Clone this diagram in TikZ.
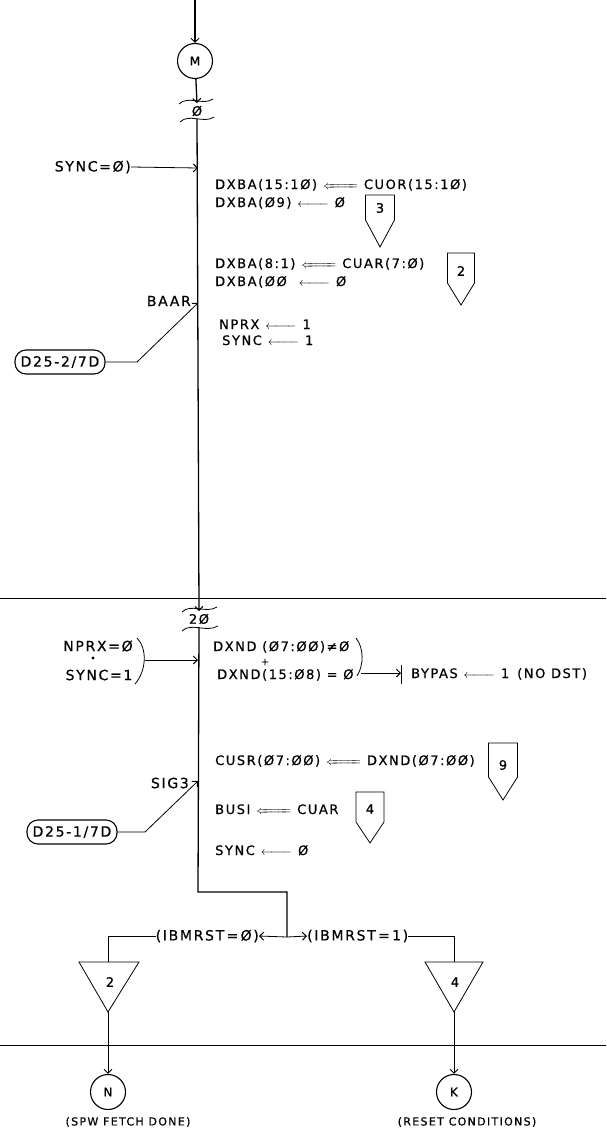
\documentclass[tikz,border=0pt]{standalone}
\usepackage{mathtools}
\usepackage{fontspec}
\newfontfamily\lettering{DejaVu Sans}[LetterSpace=12, FakeBold=0.6]
\usetikzlibrary{arrows.meta}
\newcommand{\asgn}{\hspace{6pt}$\xleftarrow{\hspace{24pt}}$\hspace{6pt}}
\newcommand{\dasgn}{\hspace{6pt}$\xLeftarrow{\hspace{24pt}}$\hspace{6pt}}
\begin{document}
\begin{tikzpicture}[x=1pt, y=-1pt,
        flow/.style={line width=1.3pt},
        thinl/.style={line width=0.8pt},
        tip/.style={-{Straight Barb[length=4pt,width=8pt,line width=1pt]}},
        conn/.style={circle, draw, line width=1.1pt, minimum size=35pt, inner sep=0pt, font=\lettering\fontsize{12}{14}\selectfont},
        brk/.style={inner sep=2.5pt, font=\lettering\fontsize{13}{15}\selectfont},
        txt/.style={anchor=base west, inner sep=0pt, font=\lettering\fontsize{13}{15}\selectfont},
        side/.style={inner sep=0pt, font=\lettering\fontsize{14}{16}\selectfont},
        ref/.style={draw, line width=1.1pt, rounded corners=11pt, minimum width=90pt, minimum height=24pt, inner sep=0pt, font=\lettering\fontsize{14}{16}\selectfont},
        num/.style={inner sep=0pt, font=\lettering\fontsize{13}{15}\selectfont},
        foot/.style={inner sep=0pt, font=\lettering\fontsize{11}{13}\selectfont},
    ]
    \useasboundingbox (0,0) rectangle (606,1137);

    % Connectors and breaks
    \coordinate (top) at (195,0);
    \node[conn] (m) at (195,61) {M};
    \node[brk] (b0) at (197,111) {Ø};
    \node[brk] (b20) at (199,619) {2Ø};
    \node[conn] (n) at (108,1092) {N};
    \node[conn] (k) at (454,1092) {K};

    % Points on the main line
    \coordinate (insync) at (198,168);
    \coordinate (inbaar) at (198,303);
    \coordinate (inpre) at (198,660);
    \coordinate (insig) at (198,781);
    \coordinate (bend) at (198,892);
    \coordinate (fork) at (287,937);

    % Upper block
    \node[side, anchor=east] (sync0) at (131,167) {SYNC=Ø)};
    \node[txt] (l1) at (215,189) {DXBA(15:1Ø)\dasgn CUOR(15:1Ø)};
    \node[txt] (l2) at (215,207) {DXBA(Ø9)\asgn Ø};
    \node[txt] (l3) at (215,268) {DXBA(8:1)\dasgn CUAR(7:Ø)};
    \node[txt] (l4) at (215,286) {DXBA(ØØ\hspace{6pt}\asgn Ø};
    \node[txt] (l5) at (219,329) {NPRX\asgn 1};
    \node[txt] (l6) at (222,345) {SYNC\asgn 1};
    \node[side, anchor=east] (baar) at (191,301) {BAAR};
    \node[ref] (d25b) at (60,362) {D25-2/7D};
    \coordinate (kb) at (137,362);

    % Lower block
    \node[side] (nprx0) at (98,646) {NPRX=Ø};
    \node[circle, fill, inner sep=1.1pt] (andop) at (93,658) {};
    \node[side] (sync1) at (99,675) {SYNC=1};
    \coordinate (brl) at (145,660);
    \node[txt] (c1) at (213,651) {DXND (Ø7:ØØ)≠Ø};
    \node[inner sep=0pt, font=\lettering\fontsize{10}{12}\selectfont] (orop) at (265,662) {+};
    \node[txt] (c2) at (217,679) {DXND(15:Ø8) = Ø};
    \coordinate (brr) at (361,673);
    \coordinate (bar) at (401,673);
    \node[txt] (byp) at (411,678) {BYPAS\asgn 1\hspace{8pt}(NO DST)};
    \node[txt] (l7) at (215,765) {CUSR(Ø7:ØØ)\dasgn DXND(Ø7:ØØ)};
    \node[side, anchor=east] (sig3) at (189,783) {SIG3};
    \node[txt] (l8) at (215,814) {BUSI\dasgn CUAR};
    \node[txt] (l9) at (215,855) {SYNC\asgn Ø};
    \node[ref] (d25a) at (72,832) {D25-1/7D};
    \coordinate (ka) at (145,832);

    % Off-page boxes
    \node[num] (p3) at (380,208) {3};
    \node[num] (p2) at (461,271) {2};
    \node[num] (p9) at (503,765) {9};
    \node[num] (p4) at (370,809) {4};
    \draw[thinl] (p3) ++(-14.5,-13) -- ++(29,0) -- ++(0,25) -- ++(-14.5,27) -- ++(-14.5,-27) -- cycle;
    \draw[thinl] (p2) ++(-13.5,-18) -- ++(27,0) -- ++(0,30) -- ++(-13.5,22) -- ++(-13.5,-22) -- cycle;
    \draw[thinl] (p9) ++(-14.5,-22) -- ++(29,0) -- ++(0,34) -- ++(-14.5,23) -- ++(-14.5,-23) -- cycle;
    \draw[thinl] (p4) ++(-14,-17) -- ++(28,0) -- ++(0,30) -- ++(-14,21) -- ++(-14,-21) -- cycle;

    % Branch
    \node[side, anchor=east] (ibm0) at (259,936) {(IBMRST\,=\,Ø)};
    \node[side, anchor=west] (ibm1) at (307,936) {(IBMRST\,=\,1)};
    \node[num] (t2) at (110,982) {2};
    \node[num] (t4) at (455,982) {4};
    \coordinate (t2top) at (108,962);
    \coordinate (t4top) at (454,962);
    \coordinate (t2a) at (108,1012);
    \coordinate (t4a) at (454,1012);
    \draw[thinl] (79,962) -- (139,962) -- (t2a) -- cycle;
    \draw[thinl] (425,962) -- (483,962) -- (t4a) -- cycle;
    \node[foot] (fdone) at (128,1122) {(SPW FETCH DONE)};
    \node[foot] (reset) at (467,1122) {(RESET CONDITIONS)};

    % Separators
    \draw[thinl] (0,598) -- (606,598);
    \draw[thinl] (0,1045) -- (606,1045);

    % Breaks
    \draw[thinl] (179,104) .. controls (188,95) and (203,106) .. (213,99);
    \draw[thinl] (180,122) .. controls (189,113) and (204,124) .. (214,117);
    \draw[thinl] (182,612) .. controls (191,603) and (206,614) .. (217,607);
    \draw[thinl] (182,631) .. controls (191,622) and (206,633) .. (218,626);

    % Brackets
    \draw[thinl] (137,638) .. controls (147,648) and (147,670) .. (135,684);
    \draw[thinl] (356,638) .. controls (364,648) and (364,665) .. (357,676);
    \draw[thinl] (401,665) -- (401,684);

    % Links
    \draw[flow, tip] (top) -- (m);
    \draw[flow, tip] (m) -- (b0.north);
    \draw[flow, tip] (b0.south) -- (b20.north);
    \draw[flow] (b20.south) -- (bend) -| (fork);
    \draw[thinl, tip] (sync0.east) -- (insync);
    \draw[thinl, tip] (d25b.east) -- (kb) -- (inbaar);
    \draw[thinl, tip] (brl) -- (inpre);
    \draw[thinl, tip] (brr) -- (bar);
    \draw[thinl, tip] (d25a.east) -- (ka) -- (insig);
    \draw[thinl, tip] (fork) -- (ibm0.east);
    \draw[thinl, tip] (fork) -- (ibm1.west);
    \draw[thinl] (ibm0.west) -| (t2top);
    \draw[thinl] (ibm1.east) -| (t4top);
    \draw[thinl, tip] (t2a) -- (n);
    \draw[thinl, tip] (t4a) -- (k);
\end{tikzpicture}
\end{document}
